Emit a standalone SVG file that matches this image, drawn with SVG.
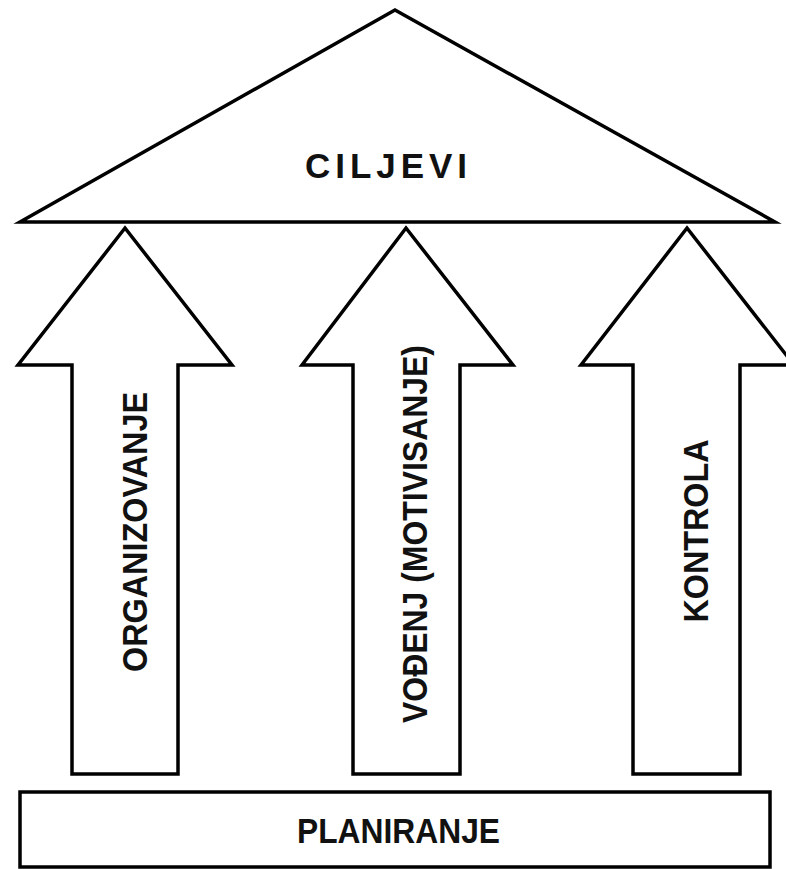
<svg xmlns="http://www.w3.org/2000/svg" width="786" height="869" viewBox="0 0 786 869">
<style>
.shape{fill:#fff;stroke:#000;stroke-width:3.5;stroke-linejoin:miter}
.lbl{font-family:"Liberation Sans",Arial,sans-serif;font-weight:bold;font-size:35px;fill:#111}
.thin{font-weight:normal}
</style>
<rect width="786" height="869" fill="#fff"/>
<g id="connectors">
<g id="arrow-organizovanje">
<polygon class="shape" points="125,228 232,365 178,365 178,774 72,774 72,365 18,365"/>
<text class="lbl" transform="translate(147,532) rotate(-90)" x="0" y="0" text-anchor="middle" textLength="280" lengthAdjust="spacingAndGlyphs" font-size="36">ORGANIZOVANJE</text>
</g>
<g id="arrow-vodjenje">
<polygon class="shape" points="406,228 513,365 460,365 460,774 353,774 353,365 302,365"/>
<text class="lbl" transform="translate(427,534) rotate(-90)" x="0" y="0" text-anchor="middle" textLength="378" lengthAdjust="spacingAndGlyphs">VOĐENJ (MOTIVISANJE)</text>
</g>
<g id="arrow-kontrola">
<polygon class="shape" points="687,228 794,365 740,365 740,774 633,774 633,365 581,365"/>
<text class="lbl" transform="translate(708,531) rotate(-90)" x="0" y="0" text-anchor="middle" textLength="183" lengthAdjust="spacingAndGlyphs">KONTROLA</text>
</g>
</g>
<g id="ciljevi">
<polygon class="shape" points="395,10 775,222 20,222"/>
<text class="lbl" x="305" y="178" textLength="162" lengthAdjust="spacing">CILJEVI</text>
</g>
<g id="planiranje">
<rect class="shape" x="20" y="792" width="750" height="75"/>
<text class="lbl" x="297" y="843" textLength="203" lengthAdjust="spacingAndGlyphs">PLANIRANJE</text>
</g>
</svg>
